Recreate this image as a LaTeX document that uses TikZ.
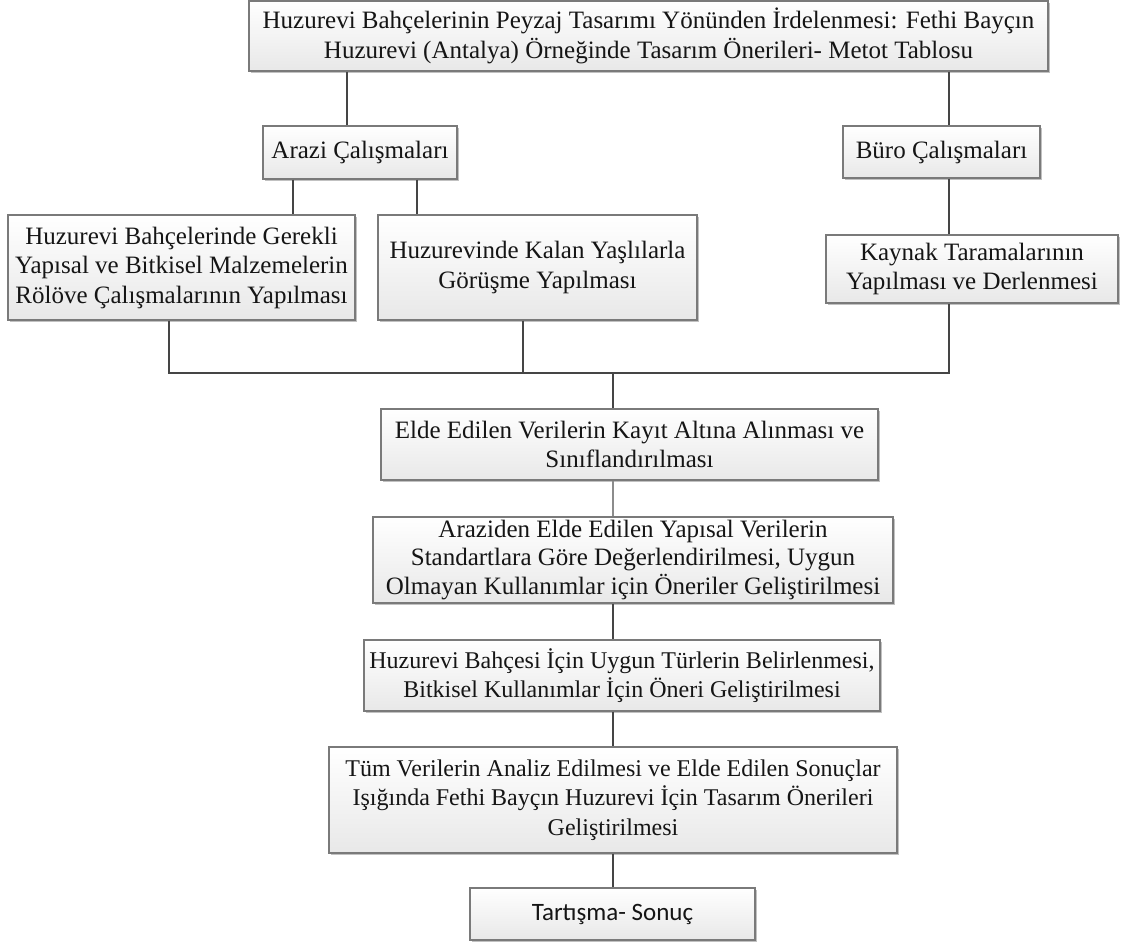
\documentclass[tikz,border=0pt]{standalone}
\usepackage{fontspec}
\setmainfont{Liberation Serif}
\newfontfamily\calibri{Carlito}
\usetikzlibrary{shadows,calc}
\definecolor{linec}{HTML}{454545}
\definecolor{boxline}{HTML}{7A7A7A}
\definecolor{txt}{HTML}{151515}
\tikzset{
  box/.style={draw=boxline, line width=1.3pt, top color=white, bottom color=black!9,
    inner sep=0pt, align=center, text=txt,
    font=\fontsize{25}{29.5}\selectfont,
    drop shadow={shadow xshift=2pt, shadow yshift=-2pt, fill=black!40, opacity=0.6}},
  smalltext/.style={font=\fontsize{24}{29.5}\selectfont},
  conn/.style={draw=linec, line width=2pt},
  lightconn/.style={draw=black!45, line width=1.4pt}
}
\begin{document}
\begin{tikzpicture}[x=1pt,y=-1pt]
\useasboundingbox[fill=white] (0,0) rectangle (1121,943);

\node[box, minimum width=799pt, minimum height=70pt] (top) at (648.5,36)
  {Huzurevi Bahçelerinin Peyzaj Tasarımı Yönünden İrdelenmesi: Fethi Bayçın\\Huzurevi (Antalya) Örneğinde Tasarım Önerileri- Metot Tablosu};
\node[box, minimum width=194pt, minimum height=53pt] (arazi) at (360,152.5) {Arazi Çalışmaları};
\node[box, minimum width=197pt, minimum height=52pt] (buro) at (941.5,152) {Büro Çalışmaları};
\node[box, minimum width=347pt, minimum height=105pt] (rolove) at (181.5,267.5)
  {Huzurevi Bahçelerinde Gerekli\\Yapısal ve Bitkisel Malzemelerin\\Rölöve Çalışmalarının Yapılması};
\node[box, minimum width=319pt, minimum height=105pt] (gorusme) at (537.5,267.5)
  {Huzurevinde Kalan Yaşlılarla\\Görüşme Yapılması};
\node[box, minimum width=292pt, minimum height=68pt] (kaynak) at (972,269)
  {Kaynak Taramalarının\\Yapılması ve Derlenmesi};
\node[box, minimum width=497pt, minimum height=71pt] (elde) at (629.5,444.5)
  {Elde Edilen Verilerin Kayıt Altına Alınması ve\\Sınıflandırılması};
\node[box, minimum width=520pt, minimum height=86pt, font=\fontsize{25}{28.5}\selectfont] (araziden) at (633,560)
  {Araziden Elde Edilen Yapısal Verilerin\\Standartlara Göre Değerlendirilmesi, Uygun\\Olmayan Kullanımlar için Öneriler Geliştirilmesi};
\node[box, smalltext, minimum width=516pt, minimum height=71pt] (bahcesi) at (622,675.5)
  {Huzurevi Bahçesi İçin Uygun Türlerin Belirlenmesi,\\Bitkisel Kullanımlar İçin Öneri Geliştirilmesi};
\node[box, smalltext, minimum width=568pt, minimum height=106pt] (tum) at (613,800)
  {Tüm Verilerin Analiz Edilmesi ve Elde Edilen Sonuçlar\\Işığında Fethi Bayçın Huzurevi İçin Tasarım Önerileri\\Geliştirilmesi};
\node[box, minimum width=285pt, minimum height=52pt, font=\calibri\fontsize{25}{29.5}\selectfont] (sonuc) at (612.5,914)
  {Tartışma- Sonuç};

% connector x positions
\coordinate (xa) at (347,0);
\coordinate (xb) at (949,0);
\coordinate (xl) at (293,0);
\coordinate (xm) at (417,0);
\coordinate (dl) at (169,0);
\coordinate (dm) at (523,0);
\coordinate (xc) at (613,0);
\coordinate (hy) at (0,373);

\draw[conn] (xa |- top.south) -- (xa |- arazi.north);
\draw[conn] (xb |- top.south) -- (xb |- buro.north);
\draw[conn] (xl |- arazi.south) -- (xl |- rolove.north);
\draw[conn] (xm |- arazi.south) -- (xm |- gorusme.north);
\draw[conn] (xb |- buro.south) -- (xb |- kaynak.north);
\draw[conn] (dl |- rolove.south) -- (dl |- hy) -- (xb |- hy) -- (xb |- kaynak.south);
\draw[conn] (dm |- gorusme.south) -- (dm |- hy);
\draw[conn] (xc |- hy) -- (xc |- elde.north);
\draw[lightconn] (xc |- elde.south) -- (xc |- araziden.north);
\draw[conn] (xc |- araziden.south) -- (xc |- bahcesi.north);
\draw[conn] (xc |- bahcesi.south) -- (xc |- tum.north);
\draw[conn] (xc |- tum.south) -- (xc |- sonuc.north);
\end{tikzpicture}
\end{document}
